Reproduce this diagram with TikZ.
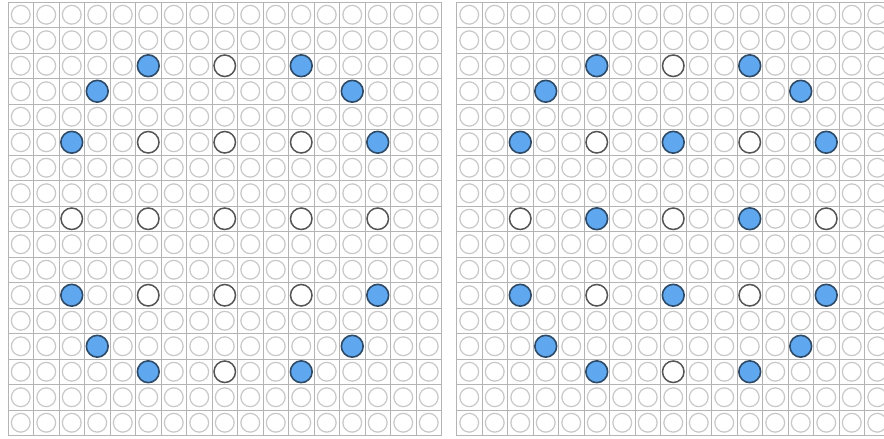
\documentclass[tikz,border=0pt]{standalone}
\definecolor{gridc}{HTML}{B4B4B4}
\definecolor{ringc}{HTML}{C8C8C8}
\definecolor{bluef}{HTML}{5FA8F0}
\definecolor{blued}{HTML}{2E4A66}
\definecolor{darkr}{HTML}{555555}
\newcommand\markmany[3]{\foreach \cc/\rr in {#3}{\expandafter\xdef\csname hl#1-\cc-\rr\endcsname{#2}}}
\markmany{L}{bluec}{5/2,11/2,3/3,13/3,2/5,14/5,2/11,14/11,3/13,13/13,5/14,11/14}
\markmany{L}{darkc}{8/2,5/5,8/5,11/5,2/8,5/8,8/8,11/8,14/8,5/11,8/11,11/11,8/14}
\markmany{R}{bluec}{5/2,11/2,3/3,13/3,2/5,8/5,14/5,5/8,11/8,2/11,8/11,14/11,3/13,13/13,5/14,11/14}
\markmany{R}{darkc}{8/2,5/5,11/5,2/8,8/8,14/8,5/11,11/11,8/14}
\tikzset{
  cell/.style={circle, draw=ringc, line width=1.2pt, minimum size=18.8pt, inner sep=0pt, fill=white},
  bluec/.style={circle, draw=blued, fill=bluef, line width=1.6pt, minimum size=21.8pt, inner sep=0pt},
  darkc/.style={circle, draw=darkr, fill=white, line width=1.5pt, minimum size=21.5pt, inner sep=0pt},
  gline/.style={draw=gridc, line width=1pt}
}
\begin{document}
\begin{tikzpicture}[x=1pt,y=-1pt]
\clip (0,0) rectangle (884,439);
\fill[white] (0,0) rectangle (884,439);
\foreach \g/\ox in {L/8,R/456.5}{
  \foreach \i in {0,...,17}{
    \draw[gline] ({\ox+\i*25.5},2) -- ({\ox+\i*25.5},435.5);
    \draw[gline] (\ox,{2+\i*25.5}) -- ({\ox+17*25.5},{2+\i*25.5});
  }
  \foreach \c in {0,...,16}{
    \foreach \r in {0,...,16}{
      \ifcsname hl\g-\c-\r\endcsname
        \edef\sty{\csname hl\g-\c-\r\endcsname}%
      \else
        \def\sty{cell}%
      \fi
      \edef\tmp{\noexpand\node[\sty] (\g-\c-\r) at ({\ox+(\c+0.5)*25.5},{2+(\r+0.5)*25.5}) {};}%
      \tmp
    }
  }
}
\end{tikzpicture}
\end{document}
